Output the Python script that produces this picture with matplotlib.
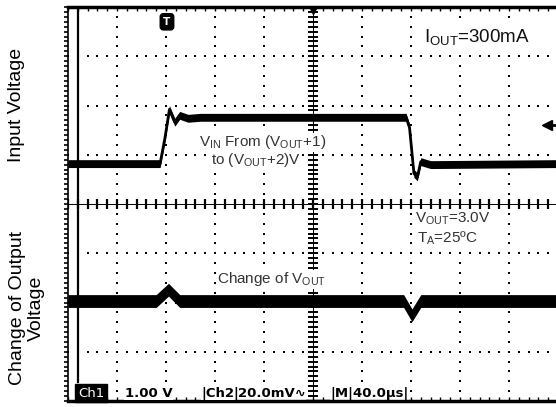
import numpy as np
import matplotlib
matplotlib.use("Agg")
import matplotlib.pyplot as plt

plt.rcParams["font.family"] = ["Liberation Sans", "DejaVu Sans"]
plt.rcParams["mathtext.fontset"] = "custom"
plt.rcParams["mathtext.rm"] = "Liberation Sans"
plt.rcParams["mathtext.it"] = "Liberation Sans:italic"

# ---- data (in scope divisions) ----
ch1_t = [-5.0, -3.12, -3.02, -2.93, -2.82, -2.72, -2.55, -2.3, 1.9, 1.97, 2.06, 2.13, 2.2, 2.4, 5.0]
ch1_v = [0.82, 0.82, 1.35, 1.92, 1.66, 1.80, 1.74, 1.76, 1.76, 1.55, 0.62, 0.55, 0.86, 0.80, 0.82]
ch2_t = [-5.0, -3.2, -2.95, -2.72, 1.85, 2.02, 2.2, 5.0]
ch2_v = [-1.97, -1.97, -1.74, -1.97, -1.97, -2.26, -1.97, -1.97]

status_texts = ["1.00 V", "|Ch2|", "20.0mV\u223f", "|M|40.0\u00b5s|"]
status_x = [-3.84, -2.27, -1.53, 0.35]

fig = plt.figure(figsize=(5.56, 4.07), dpi=100)
ax = fig.add_axes([68 / 556, 1 - 401 / 407, 490 / 556, 394 / 407])
ax.set_xlim(-5, 5)
ax.set_ylim(-4, 4)

# grid of dots
for xv in [-4, -3, -2, -1, 1, 2, 3, 4]:
    ys = np.arange(-4, 4.01, 0.2)
    ax.plot([xv] * len(ys), ys, "s", ms=1.5, color="k", mew=0, zorder=1)
for yv in [-3, -2, -1, 1, 2, 3]:
    xs = np.arange(-5, 5.01, 0.2)
    ax.plot(xs, [yv] * len(xs), "s", ms=1.5, color="k", mew=0, zorder=1)

# center cross with ticks
ax.axhline(0, color="k", lw=0.7, zorder=1)
ax.axvline(0, color="k", lw=0.7, zorder=1)
xs = np.arange(-5, 5.01, 0.2)
ax.plot(xs, np.zeros_like(xs), "|", ms=7, mew=1.6, color="k", zorder=1)
ys = np.arange(-4, 4.01, 0.1)
ax.plot(np.zeros_like(ys), ys, "_", ms=7, mew=1.4, color="k", zorder=1)

# left record bar
ax.plot([-4.8, -4.8], [-3.62, 4], color="k", lw=1.6)

# traces
h1 = 0.08
h2 = 0.13
ax.fill_between(ch1_t, np.array(ch1_v) - h1, np.array(ch1_v) + h1, color="k", lw=0, zorder=3)
ax.plot(ch1_t, ch1_v, color="k", lw=2.0, zorder=3)
ax.fill_between(ch2_t, np.array(ch2_v) - h2, np.array(ch2_v) + h2, color="k", lw=0, zorder=3)
ax.plot(ch2_t, ch2_v, color="k", lw=2.0, zorder=3)

# markers
ax.text(-2.98, 3.70, "T", color="white", fontsize=7.5, fontweight="bold", ha="center", va="center",
        family="DejaVu Sans",
        bbox=dict(boxstyle="round,pad=0.3", facecolor="black", edgecolor="black"))
ax.plot([0], [3.93], "v", color="k", ms=6)
ax.plot([4.78], [1.61], "<", color="k", ms=7)
ax.plot([4.8, 5.0], [1.61, 1.61], color="k", lw=2)

# spines / ticks
for s in ["top", "bottom"]:
    ax.spines[s].set_linewidth(2.5)
ax.spines["left"].set_linewidth(1.2)
ax.spines["right"].set_visible(False)
ax.set_yticks(np.arange(-4, 4.01, 0.1))
ax.set_xticks(np.arange(-5, 5.01, 0.2))
ax.tick_params(axis="y", left=True, right=False, direction="out", length=3, width=1.2, labelleft=False)
ax.tick_params(axis="x", top=True, bottom=True, direction="in", length=3, width=1.0, labelbottom=False)

# annotations
wb = dict(facecolor="white", edgecolor="none", pad=0.5)
ax.text(2.27, 3.39, r"I$_{\mathrm{OUT}}$=300mA", fontsize=13.5, color="#111111", va="center", ha="left",
        bbox=wb, zorder=4)
ax.text(-1.02, 1.25, r"V$_{\mathrm{IN}}$ From (V$_{\mathrm{OUT}}$+1)", fontsize=11, color="#333333",
        va="center", ha="center", bbox=wb, zorder=4)
ax.text(-1.16, 0.90, r"to (V$_{\mathrm{OUT}}$+2)V", fontsize=11, color="#333333", va="center", ha="center",
        bbox=wb, zorder=4)
ax.text(2.08, -0.31, r"V$_{\mathrm{OUT}}$=3.0V", fontsize=11, color="#333333", va="center", ha="left",
        bbox=wb, zorder=4)
ax.text(2.12, -0.69, r"T$_{\mathrm{A}}$=25ºC", fontsize=11, color="#333333", va="center", ha="left",
        bbox=wb, zorder=4)
ax.text(-0.84, -1.53, r"Change of V$_{\mathrm{OUT}}$", fontsize=11, color="#333333", va="center", ha="center",
        bbox=wb, zorder=4)

# status bar
ax.text(-4.53, -3.84, "Ch1", color="white", fontsize=9.5, ha="center", va="center", family="DejaVu Sans",
        bbox=dict(boxstyle="square,pad=0.2", facecolor="black", edgecolor="black"), zorder=5)
for s, x in zip(status_texts, status_x):
    ax.text(x, -3.84, s, fontsize=9.5, fontweight="bold", family="DejaVu Sans", ha="left", va="center",
            color="k", bbox=dict(facecolor="white", edgecolor="none", pad=0.3), zorder=5)
ax.plot([-1.6, 1.95], [-3.98, -3.98], color="k", lw=1.0, zorder=5)

# side labels
fig.text(17 / 556, 1 - 105 / 407, "Input Voltage", rotation=90, fontsize=14, ha="center", va="center")
fig.text(27 / 556, 1 - 308 / 407, "Change of Output\nVoltage", rotation=90, fontsize=14, ha="center",
         va="center", linespacing=1.1)

fig.savefig("out.png", dpi=100)
